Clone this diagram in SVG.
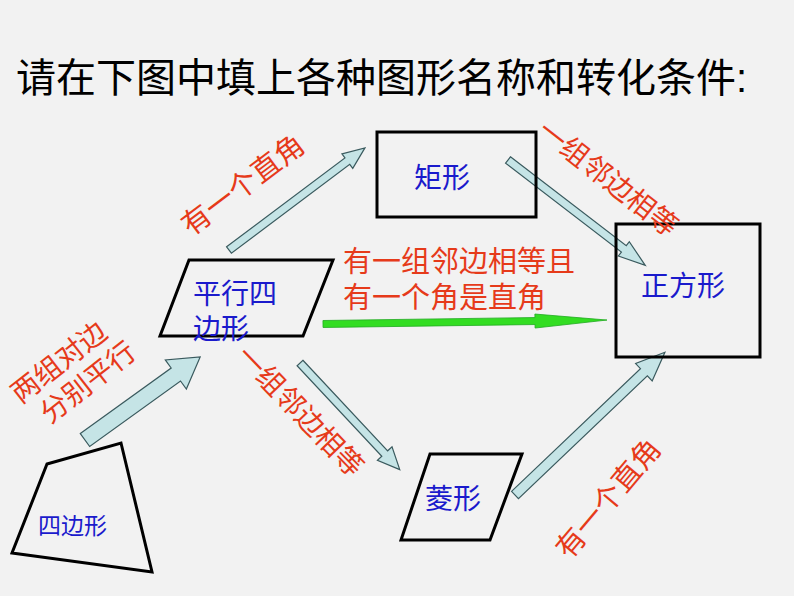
<svg xmlns="http://www.w3.org/2000/svg" width="794" height="596" viewBox="0 0 794 596">
<style>
text{font-family:"Liberation Sans","Noto Sans CJK SC",sans-serif}
.t{font-size:40px;fill:#000}
.n{fill:#1a1acc;font-size:28px}
.r{fill:#e63a1a;font-size:29px}
.s{fill:none;stroke:#000;stroke-width:3}
.a{fill:#c5e4e6;stroke:#3a5a5e;stroke-width:1.2}
</style>
<rect width="794" height="596" fill="#f2f2f2"/>
<text class="t" x="16" y="92">请在下图中填上各种图形名称和转化条件:</text>
<g id="connectors">
<polygon class="a" transform="translate(229,250) rotate(-36.9)" points="0,-4 148,-4 148,-9 170,0 148,9 148,4 0,4"/>
<polygon class="a" transform="translate(85,440) rotate(-35.8)" points="0,-8 112,-8 112,-18 142,0 112,18 112,8 0,8"/>
<polygon class="a" transform="translate(300,363) rotate(46.9)" points="0,-4 124,-4 124,-10 146,0 124,10 124,4 0,4"/>
<polygon class="a" transform="translate(508,160) rotate(37.5)" points="0,-4 146,-4 146,-9 173,0 146,9 146,4 0,4"/>
<polygon class="a" transform="translate(515,495) rotate(-43.6)" points="0,-5 178,-5 178,-12 207,0 178,12 178,5 0,5"/>
<polygon fill="#33dd22" stroke="#22aa22" stroke-width="0.8" transform="translate(323,324) rotate(-0.8)" points="0,-3.5 212,-3.5 212,-7 284,0 212,7 212,3.5 0,3.5"/>
</g>
<g id="rect"><rect class="s" x="377" y="132" width="159" height="85"/><text class="n" x="442" y="188" text-anchor="middle">矩形</text></g>
<g id="square"><rect class="s" x="616" y="224" width="144" height="133"/><text class="n" x="683" y="296" text-anchor="middle">正方形</text></g>
<g id="parallelogram"><polygon class="s" points="189,260 333,260 303,336 160,336"/><text class="n" x="193" y="304">平行四</text><text class="n" x="193" y="339">边形</text></g>
<g id="rhombus"><polygon class="s" points="430,454 522,454 490,540 401,540"/><text class="n" x="425" y="509">菱形</text></g>
<g id="quad"><polygon class="s" points="47,464 121,443 152,572 12,553"/><text class="n" x="38" y="534" style="font-size:23px">四边形</text></g>
<g id="labels">
<text class="r" text-anchor="middle" transform="translate(249,193) rotate(-37)">有一个直角</text>
<text class="r" text-anchor="middle" style="font-size:28px" transform="translate(602,186) rotate(38)">一组邻边相等</text>
<text class="r" x="343" y="272">有一组邻边相等且</text>
<text class="r" x="343" y="308">有一个角是直角</text>
<text class="r" text-anchor="middle" style="font-size:28px" transform="translate(65,370) rotate(-38)">两组对边</text>
<text class="r" text-anchor="middle" style="font-size:28px" transform="translate(94,390) rotate(-38)">分别平行</text>
<text class="r" text-anchor="middle" style="font-size:28px" transform="translate(293,418) rotate(46)">一组邻边相等</text>
<text class="r" text-anchor="middle" transform="translate(616,505) rotate(-50)">有一个直角</text>
</g>
</svg>
